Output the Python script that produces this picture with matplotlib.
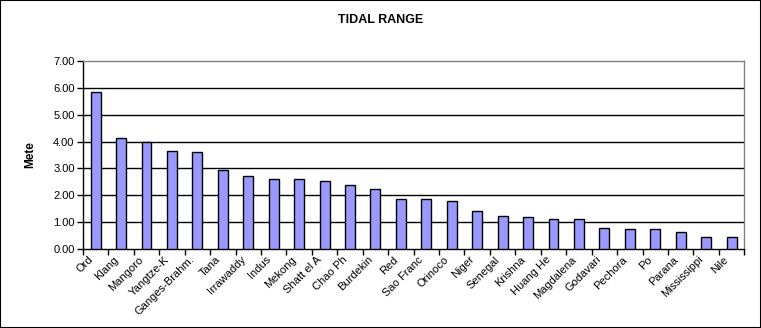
import matplotlib
matplotlib.use("Agg")
import matplotlib.pyplot as plt
import matplotlib.transforms as mtransforms
from matplotlib.patches import Rectangle
from matplotlib.ticker import FormatStrFormatter, FixedLocator
import numpy as np

plt.rcParams["font.family"] = ["Liberation Sans", "DejaVu Sans"]

# mean tidal range at river mouths (metres)
rivers = ["Ord", "Klang", "Mangoro", "Yangtze-K", "Ganges-Brahm.", "Tana",
          "Irrawaddy", "Indus", "Mekong", "Shatt el A", "Chao Ph", "Burdekin",
          "Red", "Sao Franc", "Orinoco", "Niger", "Senegal", "Krishna",
          "Huang He", "Magdalena", "Godavari", "Pechora", "Po", "Parana",
          "Mississippi", "Nile"]
tidal_range = [5.85, 4.13, 3.99, 3.66, 3.62, 2.95, 2.71, 2.62, 2.60, 2.52,
               2.37, 2.22, 1.85, 1.85, 1.77, 1.40, 1.21, 1.18, 1.11, 1.11,
               0.78, 0.74, 0.74, 0.63, 0.44, 0.44]
y_ticks = [0, 1, 2, 3, 4, 5, 6, 7]

fig = plt.figure(figsize=(7.61, 3.28), dpi=100)
fig.patches.append(Rectangle((0, 0), 1, 1, transform=fig.transFigure,
                             fill=False, edgecolor="black", linewidth=1.5))

ax = fig.add_axes([0.109, 0.241, 0.869, 0.573])
x = np.arange(len(rivers))
ax.bar(x, tidal_range, width=0.39, color="#9999FF", edgecolor="black",
       linewidth=1.0, zorder=3)

ax.set_xlim(-0.5, len(rivers) - 0.5)
ax.set_ylim(0, 7)
ax.set_yticks(y_ticks)
ax.yaxis.set_major_formatter(FormatStrFormatter("%.2f"))
for v in y_ticks[1:-1]:
    ax.axhline(v, color="black", linewidth=1.0, zorder=1)

# category boundaries carry the tick marks, labels sit at the centres
ax.xaxis.set_major_locator(FixedLocator(np.arange(len(rivers) + 1) - 0.5))
ax.xaxis.set_major_formatter(plt.NullFormatter())
ax.set_xticks(x, minor=True)
ax.set_xticklabels(rivers, minor=True, rotation=45, ha="right",
                   rotation_mode="anchor", fontsize=8)
ax.tick_params(axis="x", which="minor", length=0, pad=4)
ax.tick_params(axis="x", which="major", direction="out", length=4, width=1)
ax.tick_params(axis="y", direction="out", length=4, width=1, labelsize=8, pad=2)
shift = mtransforms.ScaledTranslation(-8 / 100, 0, fig.dpi_scale_trans)
for lbl in ax.get_xticklabels(minor=True):
    lbl.set_transform(lbl.get_transform() + shift)

for side in ("top", "right"):
    ax.spines[side].set_color("#808080")
    ax.spines[side].set_linewidth(1.0)
for side in ("left", "bottom"):
    ax.spines[side].set_color("black")
    ax.spines[side].set_linewidth(1.0)

ax.set_ylabel("Mete", fontsize=8.5, fontweight="bold", labelpad=12)
fig.text(0.5, 0.94, "TIDAL RANGE", ha="center", va="center",
         fontsize=9, fontweight="bold")

fig.savefig("out.png", dpi=100)
